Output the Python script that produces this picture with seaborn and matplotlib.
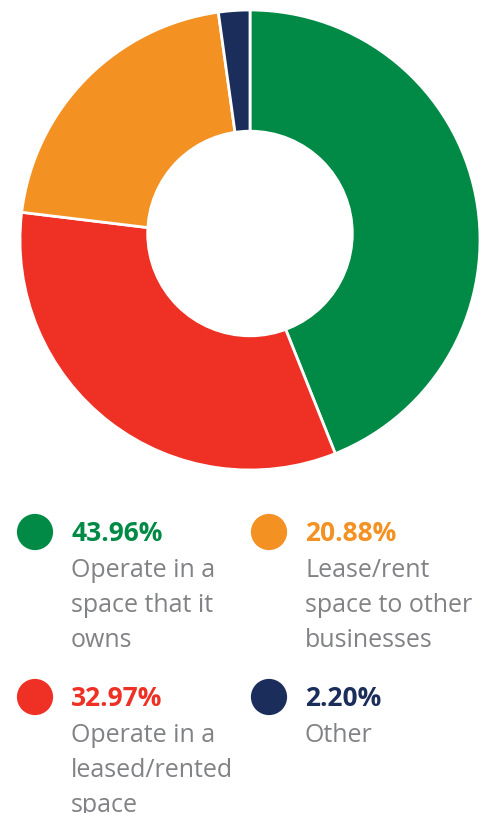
import matplotlib
matplotlib.use("Agg")
import matplotlib.pyplot as plt
import seaborn as sns
import pandas as pd

# Property usage shares
categories = ["Operate in a space that it owns",
              "Operate in a leased/rented space",
              "Lease/rent space to other businesses",
              "Other"]
shares = [43.96, 32.97, 20.88, 2.20]
colors = ["#008a45", "#ee3124", "#f39122", "#1b2d5b"]
label_lines = [["Operate in a", "space that it", "owns"],
               ["Operate in a", "leased/rented", "space"],
               ["Lease/rent", "space to other", "businesses"],
               ["Other"]]

sns.set_theme(style="white")
plt.rcParams["font.family"] = ["Open Sans", "DejaVu Sans"]

W, H = 489, 813
fig = plt.figure(figsize=(W / 100, H / 100), dpi=100)
fig.patch.set_facecolor("white")

# Donut: full pie with a white hole laid on top
cx, cy, r = 250, 240, 230
ax = fig.add_axes([(cx - r) / W, (H - cy - r) / H, 2 * r / W, 2 * r / H])
ax.pie(shares, colors=colors, startangle=90, counterclock=False, radius=1,
       wedgeprops=dict(edgecolor="white", linewidth=2))
hole_r = 103 / r
hole_dy = (cy - 233.5) / r
ax.add_patch(plt.Circle((0, hole_dy), hole_r, color="white", zorder=5))
ax.set_xlim(-1, 1)
ax.set_ylim(-1, 1)
ax.set_aspect("equal")
ax.axis("off")

# Legend, laid out in pixel coordinates
lax = fig.add_axes([0, 0, 1, 1])
lax.set_xlim(0, W)
lax.set_ylim(H, 0)
lax.axis("off")

col_x = [35, 269]
row_y = [532, 697]
pos = {0: (0, 0), 1: (0, 1), 2: (1, 0), 3: (1, 1)}
df = pd.DataFrame({
    "x": [col_x[pos[i][0]] for i in range(4)],
    "y": [row_y[pos[i][1]] for i in range(4)],
    "cat": categories,
})
sns.scatterplot(data=df, x="x", y="y", hue="cat", palette=colors,
                s=680, linewidth=0, legend=False, ax=lax)

for i in range(4):
    c, rr = pos[i]
    tx = col_x[c] + 36
    ty = row_y[rr]
    lax.text(tx, ty + 9, f"{shares[i]:.2f}%", color=colors[i], fontsize=19,
             fontweight="bold", va="baseline", ha="left")
    for k, line in enumerate(label_lines[i]):
        lax.text(tx, ty + 45 + 35 * k, line, color="#808285", fontsize=18,
                 va="baseline", ha="left")

fig.savefig("out.png", dpi=100, facecolor="white")
